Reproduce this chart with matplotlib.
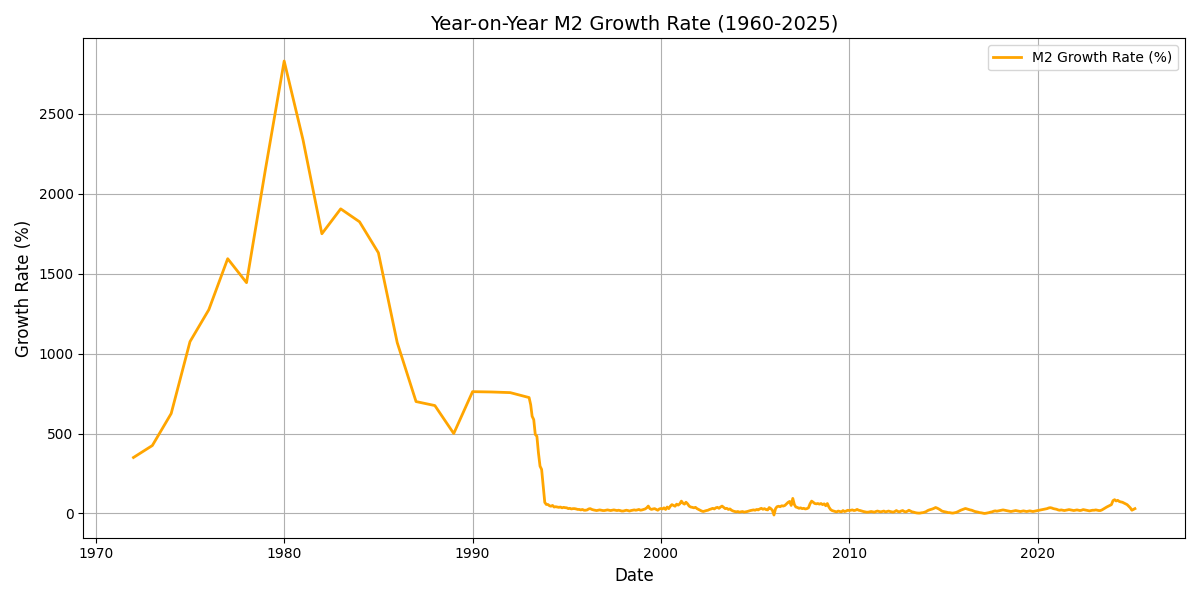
import numpy as np
import pandas as pd
import matplotlib
matplotlib.use("Agg")
import matplotlib.pyplot as plt

# annual readings 1972-1992
annual_years = list(range(1972, 1993))
annual_values = [350, 425, 625, 1075, 1275, 1594, 1444, 2150, 2831, 2337,
                 1750, 1906, 1825, 1631, 1069, 700, 675, 500, 762, 760, 756]

# monthly readings from Jan 1993 on (one row per year)
monthly_values = [
    725, 680, 608, 587, 494, 483, 380, 296, 275, 171, 69, 56,   # 1993
    56, 48, 45, 50, 40, 42, 40, 38, 40, 35, 38, 36,             # 1994
    35, 30, 32, 28, 30, 30, 28, 25, 25, 22, 25, 20,             # 1995
    20, 22, 28, 30, 25, 22, 20, 18, 20, 22, 20, 18,             # 1996
    18, 20, 22, 20, 18, 20, 22, 20, 18, 20, 18, 15,             # 1997
    15, 18, 20, 18, 15, 18, 20, 22, 20, 22, 25, 20,             # 1998
    22, 25, 28, 35, 46, 30, 25, 28, 30, 25, 20, 28,             # 1999
    31, 28, 35, 25, 40, 30, 45, 55, 50, 45, 58, 52,             # 2000
    60, 77, 65, 58, 70, 60, 46, 40, 38, 35, 38, 30,             # 2001
    25, 20, 15, 12, 15, 18, 20, 25, 28, 32, 28, 35,             # 2002
    38, 32, 40, 46, 38, 30, 32, 25, 28, 20, 15, 12,             # 2003
    10, 12, 8, 10, 12, 8, 10, 12, 15, 18, 20, 22,               # 2004
    20, 25, 22, 28, 32, 26, 30, 24, 22, 37, 30, 20,             # 2005
    -10, 30, 42, 45, 42, 48, 46, 50, 60, 69, 75, 50,            # 2006
    94, 55, 40, 37, 32, 35, 30, 32, 28, 30, 35, 60,             # 2007
    77, 70, 62, 60, 62, 58, 62, 55, 60, 48, 62, 40,             # 2008
    25, 18, 15, 12, 10, 15, 12, 10, 18, 12, 15, 20,             # 2009
    18, 20, 22, 18, 20, 25, 20, 18, 15, 12, 10, 8,              # 2010
    8, 10, 12, 10, 8, 12, 15, 12, 10, 12, 15, 10,               # 2011
    12, 15, 12, 10, 8, 12, 18, 12, 10, 15, 18, 12,              # 2012
    10, 14, 20, 15, 10, 8, 5, 3, 2, 2, 4, 5,                    # 2013
    8, 12, 18, 22, 25, 28, 32, 37, 33, 28, 22, 15,              # 2014
    12, 10, 8, 5, 5, 3, 2, 4, 6, 10, 15, 20,                    # 2015
    24, 28, 31, 28, 25, 22, 20, 16, 12, 10, 8, 5,               # 2016
    4, 2, 0, 1, 3, 5, 8, 10, 14, 16, 14, 16,                    # 2017
    18, 20, 22, 20, 18, 16, 14, 12, 14, 16, 18, 16,             # 2018
    14, 12, 14, 16, 14, 12, 14, 16, 14, 12, 14, 16,             # 2019
    18, 20, 22, 24, 26, 28, 30, 34, 36, 34, 30, 28,             # 2020
    26, 22, 20, 22, 20, 18, 20, 22, 24, 22, 20, 18,             # 2021
    20, 22, 20, 18, 20, 24, 22, 20, 18, 16, 18, 20,             # 2022
    20, 22, 20, 18, 18, 22, 28, 35, 40, 45, 50, 55,             # 2023
    80, 86, 78, 82, 75, 72, 70, 65, 60, 55, 45, 35,             # 2024
    20, 25, 30,                                                 # 2025
]

annual_dates = pd.to_datetime([f"{y}-01-01" for y in annual_years])
monthly_dates = pd.date_range("1993-01-01", periods=len(monthly_values), freq="MS")

dates = annual_dates.append(monthly_dates)
values = annual_values + monthly_values

fig, ax = plt.subplots(figsize=(12, 6), dpi=100)
ax.plot(dates, values, color="orange", linewidth=2, label="M2 Growth Rate (%)")
ax.set_title("Year-on-Year M2 Growth Rate (1960-2025)", fontsize=14)
ax.set_xlabel("Date", fontsize=12)
ax.set_ylabel("Growth Rate (%)", fontsize=12)
ax.grid(True)
ax.legend(loc="upper right")
fig.tight_layout()
fig.savefig("out.png")
